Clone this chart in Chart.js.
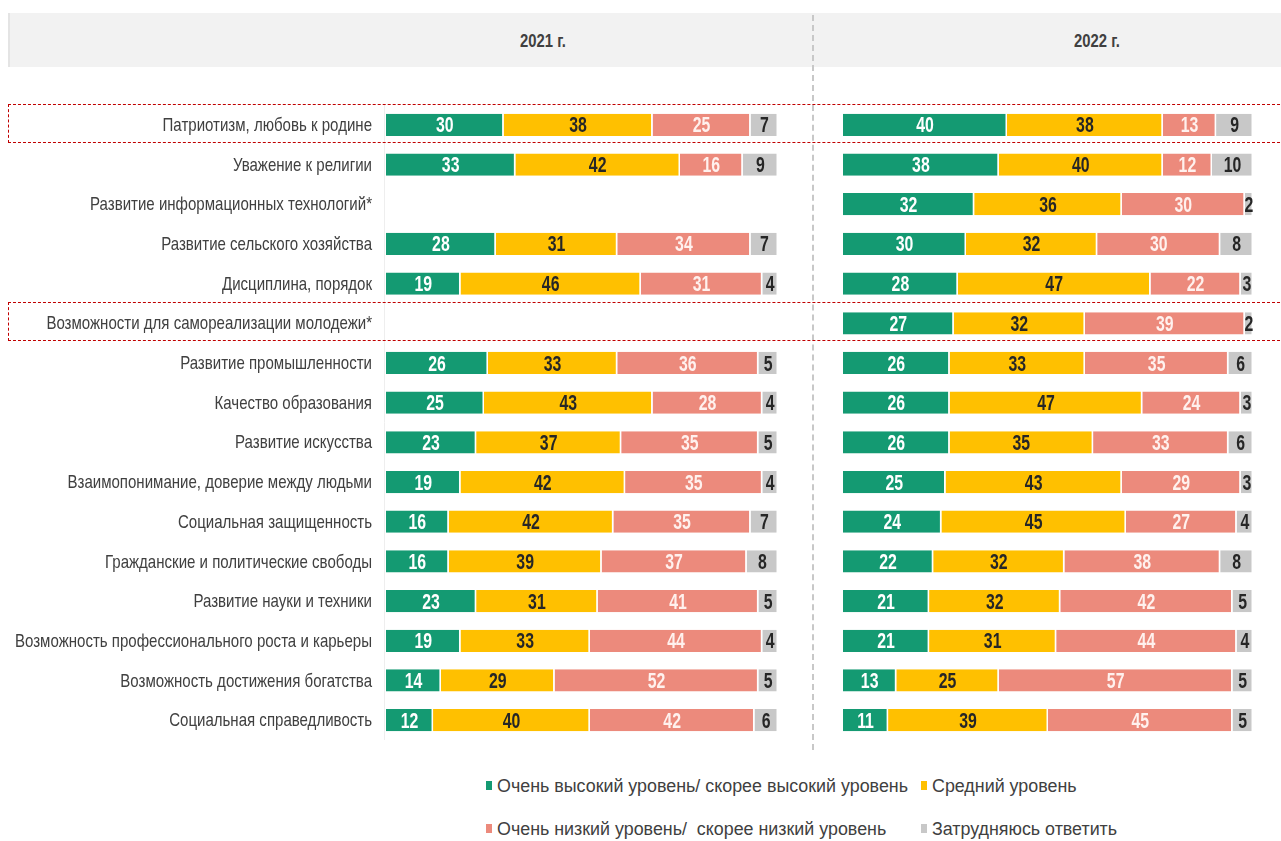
<!DOCTYPE html>
<html>
<head>
<meta charset="utf-8">
<script src="https://cdn.jsdelivr.net/npm/chart.js@4.4.1/dist/chart.umd.min.js"></script>
<style>
  body { margin: 0; width: 1281px; height: 841px; background: #fff; position: relative; overflow: hidden;
         font-family: 'Liberation Sans', sans-serif; }
  .abs { position: absolute; }
  .head { left: 8px; top: 13px; width: 1273px; height: 54px; background: #f2f2f2; border-left: 2px solid #e4e4e4; }
  .year { top: 30px; font-size: 19px; font-weight: bold; color: #404040; white-space: nowrap;
          transform: translateX(-50%) scaleX(0.78); }
  .sep { left: 812px; top: 15px; height: 735px; border-left: 2px dashed #c8c8c8; }
  .frame { left: 8px; width: 1290px; border: 1.2px dashed #c00000; }
  .leg { font-size: 18px; color: #404040; white-space: nowrap; }
  .leg i { position: absolute; left: 0; top: 5px; width: 6px; height: 9px; }
  .leg span { position: absolute; left: 11px; top: 0; transform-origin: 0 0; }
</style>
</head>
<body>
<div class="abs head"></div>
<div class="abs year" style="left:543px">2021 г.</div>
<div class="abs year" style="left:1097px">2022 г.</div>
<div class="abs sep"></div>

<div class="abs" style="left:0;top:105px;width:795px;height:635px"><canvas id="c2021"></canvas></div>
<div class="abs" style="left:843px;top:105px;width:430px;height:635px"><canvas id="c2022"></canvas></div>

<div class="abs frame" style="top:104px;height:37px"></div>
<div class="abs frame" style="top:302px;height:37px"></div>

<div class="abs leg" style="left:486px;top:776px"><i style="background:#149a72"></i><span id="lg0"></span></div>
<div class="abs leg" style="left:921px;top:776px"><i style="background:#ffc000"></i><span id="lg1"></span></div>
<div class="abs leg" style="left:486px;top:819px"><i style="background:#ec8a7c"></i><span id="lg2"></span></div>
<div class="abs leg" style="left:921px;top:819px"><i style="background:#c8c8c8"></i><span id="lg3"></span></div>

<script>
// ===== Data =====
const categories = [
  'Патриотизм, любовь к родине',
  'Уважение к религии',
  'Развитие информационных технологий*',
  'Развитие сельского хозяйства',
  'Дисциплина, порядок',
  'Возможности для самореализации молодежи*',
  'Развитие промышленности',
  'Качество образования',
  'Развитие искусства',
  'Взаимопонимание, доверие между людьми',
  'Социальная защищенность',
  'Гражданские и политические свободы',
  'Развитие науки и техники',
  'Возможность профессионального роста и карьеры',
  'Возможность достижения богатства',
  'Социальная справедливость'
];

const seriesNames = [
  'Очень высокий уровень/ скорее высокий уровень',
  'Средний уровень',
  'Очень низкий уровень/\u00a0 скорее низкий уровень',
  'Затрудняюсь ответить'
];

const high2021 = [30, 33, null, 28, 19, null, 26, 25, 23, 19, 16, 16, 23, 19, 14, 12];
const mid2021  = [38, 42, null, 31, 46, null, 33, 43, 37, 42, 42, 39, 31, 33, 29, 40];
const low2021  = [25, 16, null, 34, 31, null, 36, 28, 35, 35, 35, 37, 41, 44, 52, 42];
const hard2021 = [7, 9, null, 7, 4, null, 5, 4, 5, 4, 7, 8, 5, 4, 5, 6];

const high2022 = [40, 38, 32, 30, 28, 27, 26, 26, 26, 25, 24, 22, 21, 21, 13, 11];
const mid2022  = [38, 40, 36, 32, 47, 32, 33, 47, 35, 43, 45, 32, 32, 31, 25, 39];
const low2022  = [13, 12, 30, 30, 22, 39, 35, 24, 33, 29, 27, 38, 42, 44, 57, 45];
const hard2022 = [9, 10, 2, 8, 3, 2, 6, 3, 6, 3, 4, 8, 5, 4, 5, 5];

const colors = ['#149a72', '#ffc000', '#ec8a7c', '#c8c8c8'];
const labelColors = ['#ffffff', '#262626', '#fff1ee', '#262626'];
const FONT = "'Liberation Sans', Arial, sans-serif";

// ===== Legend (html, condensed like the source) =====
const LEG_WIDTH = 411; // width of the first legend text in the source
seriesNames.forEach((n, i) => { document.getElementById('lg' + i).textContent = n; });
const legScale = LEG_WIDTH / document.getElementById('lg0').getBoundingClientRect().width;
seriesNames.forEach((n, i) => {
  document.getElementById('lg' + i).style.transform = 'scaleX(' + legScale + ')';
});

// ===== Category labels, drawn condensed at the y scale positions =====
const categoryLabels = {
  id: 'categoryLabels',
  afterDraw(chart, args, opts) {
    if (!opts.show) return;
    const ctx = chart.ctx;
    const y = chart.scales.y;
    const right = chart.chartArea.left - 14;
    ctx.save();
    ctx.font = '18.5px ' + FONT;
    const longest = Math.max(...categories.map(c => ctx.measureText(c).width));
    const sx = 357 / longest;
    ctx.fillStyle = '#404040';
    ctx.textAlign = 'right';
    ctx.textBaseline = 'middle';
    categories.forEach((c, i) => {
      ctx.save();
      ctx.translate(right, y.getPixelForValue(i) + 1);
      ctx.scale(sx, 1);
      ctx.fillText(c, 0, 0);
      ctx.restore();
    });
    // faint axis line
    ctx.strokeStyle = '#eeeeee';
    ctx.lineWidth = 1;
    ctx.beginPath();
    ctx.moveTo(chart.chartArea.left - 1.5, chart.chartArea.top);
    ctx.lineTo(chart.chartArea.left - 1.5, chart.chartArea.bottom);
    ctx.stroke();
    ctx.restore();
  }
};

// ===== Value labels inside segments =====
const segmentLabels = {
  id: 'segmentLabels',
  afterDatasetsDraw(chart) {
    const ctx = chart.ctx;
    ctx.save();
    ctx.font = 'bold 22px ' + FONT;
    ctx.textAlign = 'center';
    ctx.textBaseline = 'middle';
    chart.data.datasets.forEach((ds, i) => {
      chart.getDatasetMeta(i).data.forEach((bar, j) => {
        const v = ds.data[j];
        if (v == null) return;
        const p = bar.getProps(['x', 'y', 'base'], true);
        ctx.fillStyle = labelColors[i];
        ctx.save();
        ctx.translate((p.x + p.base) / 2, p.y + 1.5);
        ctx.scale(0.72, 1);
        ctx.fillText(String(v), 0, 0);
        ctx.restore();
      });
    });
    ctx.restore();
  }
};

function makeDatasets(values) {
  return values.map((data, i) => ({
    label: seriesNames[i],
    data: data,
    backgroundColor: colors[i],
    borderColor: '#ffffff',
    borderWidth: { left: 0, right: 1.5, top: 0, bottom: 0 },
    borderSkipped: false,
    barPercentage: 0.56,
    categoryPercentage: 1
  }));
}

function makeChart(id, values, showLabels, padRight) {
  return new Chart(document.getElementById(id), {
    type: 'bar',
    data: { labels: categories, datasets: makeDatasets(values) },
    options: {
      indexAxis: 'y',
      responsive: true,
      maintainAspectRatio: false,
      animation: false,
      layout: { padding: { left: showLabels ? 386 : 0, right: padRight, top: 0, bottom: 0 } },
      plugins: {
        legend: { display: false },
        tooltip: { enabled: false },
        categoryLabels: { show: showLabels }
      },
      scales: {
        x: { stacked: true, min: 0, max: 100, display: false },
        y: { stacked: true, display: false }
      }
    },
    plugins: [segmentLabels, categoryLabels]
  });
}

makeChart('c2021', [high2021, mid2021, low2021, hard2021], true, 17);
makeChart('c2022', [high2022, mid2022, low2022, hard2022], false, 20);
</script>
</body>
</html>
